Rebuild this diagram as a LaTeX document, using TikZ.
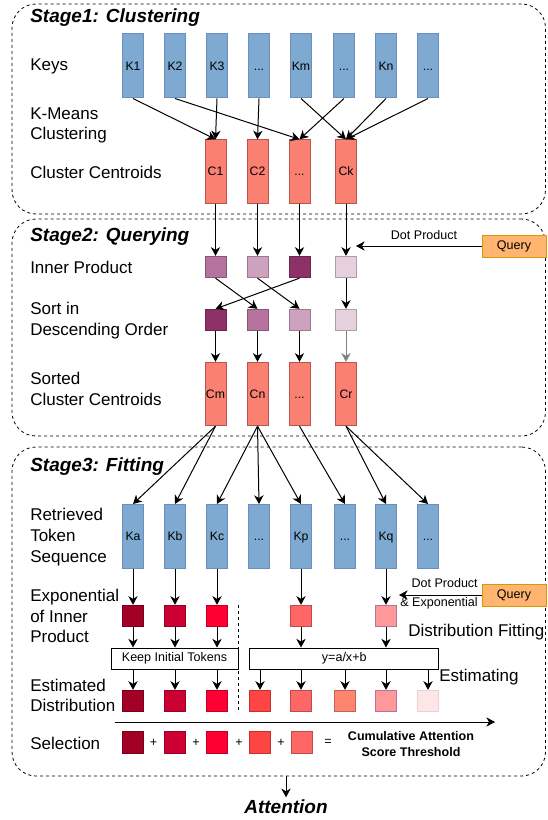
\documentclass[tikz,border=0pt]{standalone}
\usepackage{fontspec}
\setmainfont{Liberation Sans}
\usetikzlibrary{arrows.meta,fit}

\definecolor{keyfill}{HTML}{7EAAD1}
\definecolor{keyline}{HTML}{6C8EBF}
\definecolor{centfill}{HTML}{FA8072}
\definecolor{centline}{HTML}{B85450}
\definecolor{qfill}{HTML}{FFB570}
\definecolor{qline}{HTML}{D79B00}
\definecolor{pA}{HTML}{B5739D}
\definecolor{pB}{HTML}{CDA2BE}
\definecolor{pC}{HTML}{8E3169}
\definecolor{pD}{HTML}{E6D0DE}
\definecolor{rA}{HTML}{A20025}
\definecolor{rB}{HTML}{CC0033}
\definecolor{rC}{HTML}{FF0033}
\definecolor{rD}{HTML}{FF4444}
\definecolor{rE}{HTML}{FF6666}
\definecolor{rF}{HTML}{FF8570}
\definecolor{rG}{HTML}{FF9999}
\definecolor{rH}{HTML}{FFE6E6}

\tikzset{
	stage/.style={draw, dash pattern=on 2.25pt off 2.25pt, rounded corners=18pt, inner sep=0pt, line width=0.6pt},
	ttl/.style={anchor=west, inner sep=0pt, font=\fontsize{14.25}{17}\selectfont\bfseries\itshape},
	lbl/.style={anchor=west, inner sep=0pt, align=left, font=\fontsize{12.75}{15.5}\selectfont},
	small/.style={inner sep=0pt, font=\fontsize{9.4}{11}\selectfont},
	key/.style={draw=keyline, fill=keyfill, line width=0.75pt, inner sep=0pt, minimum width=15.75pt, minimum height=48pt, text height=6.5pt, text depth=0pt, font=\fontsize{9.2}{11}\selectfont},
	cent/.style={draw=centline, fill=centfill, line width=0.75pt, inner sep=0pt, minimum width=15.75pt, minimum height=47.5pt, text height=6.5pt, text depth=0pt, font=\fontsize{9.2}{11}\selectfont},
	sq/.style={draw=#1!75!black, fill=#1, line width=0.75pt, inner sep=0pt, minimum width=15.75pt, minimum height=16pt},
	query/.style={draw=qline, fill=qfill, line width=0.75pt, inner sep=0pt, minimum width=48pt, minimum height=16.5pt, font=\fontsize{9.4}{11}\selectfont},
	txtbox/.style={draw, line width=0.75pt, inner sep=0pt, minimum height=15.75pt, font=\fontsize{9.4}{11}\selectfont},
	arr/.style={-{Stealth[length=6.5pt,width=7pt,inset=2pt]}, line width=0.75pt},
}

\begin{document}
\begin{tikzpicture}[x=0.75pt, y=-0.75pt]
	\useasboundingbox (0,0) rectangle (547,820);

	% Stage frames:
	\node[stage, fit={(12,4) (545.5,214)}] (stage1) {};
	\node[stage, fit={(12,219) (545.5,436)}] (stage2) {};
	\node[stage, fit={(12,447) (545.5,776)}] (stage3) {};

	% Titles and row labels:
	\node[ttl] (t1) at (30,18) {Stage1: Clustering};
	\node[ttl] (t2) at (30,237) {Stage2: Querying};
	\node[ttl] (t3) at (30,467) {Stage3: Fitting};
	\node[lbl] (lkeys) at (30,66) {Keys};
	\node[lbl] (lkmeans) at (30,125.5) {K-Means\\Clustering};
	\node[lbl] (lcent) at (30,172) {Cluster Centroids};
	\node[lbl] (linner) at (30,267) {Inner Product};
	\node[lbl] (lsort) at (30,320.5) {Sort in\\Descending Order};
	\node[lbl] (lsorted) at (30,389) {Sorted\\Cluster Centroids};
	\node[lbl] (lret) at (30,537) {Retrieved\\Token\\Sequence};
	\node[lbl] (lexp) at (30,616) {Exponential\\of Inner\\Product};
	\node[lbl] (lest) at (30,695.5) {Estimated\\Distribution};
	\node[lbl] (lsel) at (30,743) {Selection};
	\node[lbl] (lfit) at (408,632) {Distribution Fitting};
	\node[lbl] (lestim) at (439,677) {Estimating};

	% Stage 1: keys and centroids
	\node[key] (k1) at (133,66) {K1};
	\node[key] (k2) at (175,66) {K2};
	\node[key] (k3) at (217,66) {K3};
	\node[key] (k4) at (259,66) {...};
	\node[key] (k5) at (301,66) {Km};
	\node[key] (k6) at (344,66) {...};
	\node[key] (k7) at (386,66) {Kn};
	\node[key] (k8) at (428,66) {...};
	\node[cent] (c1) at (215.5,171.5) {C1};
	\node[cent] (c2) at (257.5,171.5) {C2};
	\node[cent] (c3) at (299.5,171.5) {...};
	\node[cent] (c4) at (346,171.5) {Ck};
	\draw[arr] (k1.south) -- (c1.north);
	\draw[arr] (k2.south) -- (c3.north);
	\draw[arr] (k3.south) -- (c1.north);
	\draw[arr] (k4.south) -- (c2.north);
	\draw[arr] (k5.south) -- (c4.north);
	\draw[arr] (k6.south) -- (c3.north);
	\draw[arr] (k7.south) -- (c4.north);
	\draw[arr] (k8.south) -- (c4.north);

	% Stage 2: inner products, sorting
	\node[sq=pA] (ip1) at (215.5,267) {};
	\node[sq=pB] (ip2) at (257.5,267) {};
	\node[sq=pC] (ip3) at (299.5,267) {};
	\node[sq=pD] (ip4) at (346,267) {};
	\node[sq=pC] (so1) at (215.5,320) {};
	\node[sq=pA] (so2) at (257.5,320) {};
	\node[sq=pB] (so3) at (299.5,320) {};
	\node[sq=pD] (so4) at (346,320) {};
	\node[cent] (sc1) at (215.5,394) {Cm};
	\node[cent] (sc2) at (257.5,394) {Cn};
	\node[cent] (sc3) at (299.5,394) {...};
	\node[cent] (sc4) at (346,394) {Cr};
	\node[query] (q1) at (514,246) {Query};
	\coordinate (dp1) at (356,246);
	\node[small] (dplbl1) at (424,235) {Dot Product};
	\draw[arr] (c1.south) -- (ip1.north);
	\draw[arr] (c2.south) -- (ip2.north);
	\draw[arr] (c3.south) -- (ip3.north);
	\draw[arr] (c4.south) -- (ip4.north);
	\draw[arr] (q1.west) -- (dp1);
	\draw[arr] (ip1.south) -- (so2.north);
	\draw[arr] (ip2.south) -- (so3.north);
	\draw[arr] (ip3.south) -- (so1.north);
	\draw[arr] (ip4.south) -- (so4.north);
	\draw[arr] (so1.south) -- (sc1.north);
	\draw[arr] (so2.south) -- (sc2.north);
	\draw[arr] (so3.south) -- (sc3.north);
	\draw[arr, gray] (so4.south) -- (sc4.north);

	% Stage 3: retrieved tokens
	\node[key] (r1) at (133,536.5) {Ka};
	\node[key] (r2) at (175,536.5) {Kb};
	\node[key] (r3) at (217,536.5) {Kc};
	\node[key] (r4) at (259,536.5) {...};
	\node[key] (r5) at (301,536.5) {Kp};
	\node[key] (r6) at (345,536.5) {...};
	\node[key] (r7) at (386,536.5) {Kq};
	\node[key] (r8) at (428,536.5) {...};
	\draw[arr] (sc1.south) -- (r1.north);
	\draw[arr] (sc1.south) -- (r2.north);
	\draw[arr] (sc2.south) -- (r3.north);
	\draw[arr] (sc2.south) -- (r4.north);
	\draw[arr] (sc2.south) -- (r5.north);
	\draw[arr] (sc3.south) -- (r6.north);
	\draw[arr] (sc4.south) -- (r7.north);
	\draw[arr] (sc4.south) -- (r8.north);

	% exponentials and fitting
	\node[sq=rA] (e1) at (133,616) {};
	\node[sq=rB] (e2) at (175,616) {};
	\node[sq=rC] (e3) at (217,616) {};
	\node[sq=rE] (e4) at (301,616) {};
	\node[sq=rG, draw=pA] (e5) at (386,616) {};
	\node[query] (q2) at (514,595) {Query};
	\coordinate (dp2) at (399,595);
	\node[small, anchor=east] (dplbl2) at (478,583) {Dot Product};
	\node[small, anchor=east] (explbl) at (478,603) {\& Exponential};
	\draw[arr] (q2.west) -- (dp2);
	\draw[arr] (r1.south) -- (e1.north);
	\draw[arr] (r2.south) -- (e2.north);
	\draw[arr] (r3.south) -- (e3.north);
	\draw[arr] (r5.south) -- (e4.north);
	\draw[arr] (r7.south) -- (e5.north);
	\node[txtbox, minimum width=95.25pt] (keep) at (174.5,658.5) {Keep Initial Tokens};
	\node[txtbox, minimum width=142pt] (fitbox) at (344.25,658.5) {y=a/x+b};
	\coordinate (sep1) at (238,605);
	\coordinate (sep2) at (238,713);
	\draw[dash pattern=on 2.25pt off 2.25pt, line width=0.6pt] (sep1) -- (sep2);
	\draw[arr] (e1.south) -- (e1.south |- keep.north);
	\draw[arr] (e2.south) -- (e2.south |- keep.north);
	\draw[arr] (e3.south) -- (e3.south |- keep.north);
	\draw[arr] (e4.south) -- (e4.south |- fitbox.north);
	\draw[arr] (e5.south) -- (e5.south |- fitbox.north);

	% estimated distribution
	\node[sq=rA] (d1) at (133,701) {};
	\node[sq=rB] (d2) at (175,701) {};
	\node[sq=rC] (d3) at (217,701) {};
	\node[sq=rD] (d4) at (260,701) {};
	\node[sq=rE] (d5) at (301,701) {};
	\node[sq=rF] (d6) at (345,701) {};
	\node[sq=rG, draw=pA] (d7) at (386,701) {};
	\node[sq=rH, draw=pD] (d8) at (428,701) {};
	\draw[arr] (keep.south -| d1) -- (d1.north);
	\draw[arr] (keep.south -| d2) -- (d2.north);
	\draw[arr] (keep.south -| d3) -- (d3.north);
	\draw[arr] (fitbox.south -| d4) -- (d4.north);
	\draw[arr] (fitbox.south -| d5) -- (d5.north);
	\draw[arr] (fitbox.south -| d6) -- (d6.north);
	\draw[arr] (fitbox.south -| d7) -- (d7.north);
	\draw[arr] (fitbox.south -| d8) -- (d8.north);
	\coordinate (ax1) at (115,722);
	\coordinate (ax2) at (495,722);
	\draw[arr] (ax1) -- (ax2);

	% selection
	\node[sq=rA] (s1) at (133,742.5) {};
	\node[sq=rB] (s2) at (175,742.5) {};
	\node[sq=rC] (s3) at (217,742.5) {};
	\node[sq=rD] (s4) at (260,742.5) {};
	\node[sq=rE] (s5) at (302,742.5) {};
	\node[small] (plus1) at (153.5,742.5) {+};
	\node[small] (plus2) at (196,742.5) {+};
	\node[small] (plus3) at (239,742.5) {+};
	\node[small] (plus4) at (281,742.5) {+};
	\node[small] (eq) at (328,742.5) {=};
	\node[small, align=center, font=\fontsize{9.4}{12}\selectfont\bfseries] (thr) at (411,744.5) {Cumulative Attention\\Score Threshold};

	% output
	\node[ttl, anchor=center, inner sep=1.5pt] (attn) at (286,806.5) {Attention};
	\draw[arr] (stage3.south -| attn) -- (attn.north);
\end{tikzpicture}
\end{document}
